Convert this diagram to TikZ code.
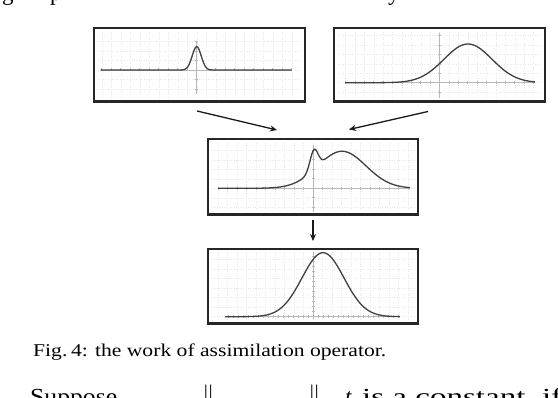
\documentclass[tikz,border=0pt]{standalone}
\usepackage{graphicx}
\usepackage{fontspec}
\setmainfont{Liberation Serif}
\usetikzlibrary{arrows.meta}
\begin{document}
\begin{tikzpicture}[x=1pt,y=-1pt,
  declare function={g(\t)=exp(-min(\t*\t/2,9));},
  frame/.style={draw=black!85, line width=1.6pt, inner sep=0pt, minimum width=210pt},
  curve/.style={draw=black!75, line width=1.3pt, line join=round},
  axisl/.style={draw=black!28, line width=0.7pt},
  gridl/.style={draw=black!9, line width=0.4pt, dotted},
  conn/.style={draw=black!90, line width=1.3pt, -{Stealth[length=7pt,width=6pt]}},
  txt/.style={inner sep=0pt, anchor=base west, font=\fontsize{23}{26}\selectfont}
]
\clip (0,0) rectangle (558,398);
\fill[white] (0,0) rectangle (558,398);

% fragments of the line above (cut off at the top edge, as in the reference)
\node[txt] (f1) at (2,1) {g};
\node[txt] (f2) at (50,1) {p};
\node[txt] (f3) at (388,1) {y};

% boxes
\node[frame, minimum width=211pt, minimum height=73pt] (b1) at (199.5,64.5) {};
\node[frame, minimum width=211pt, minimum height=73pt] (b2) at (439.5,64.7) {};
\node[frame, minimum width=210pt, minimum height=75pt] (b3) at (313,176.5) {};
\node[frame, minimum width=210pt, minimum height=74pt] (b4) at (313,286) {};
\foreach \b in {b1,b2,b3,b4}
  \draw[black!85, line width=2.8pt] (\b.south west) -- (\b.south east);

% ---- plot 1
\foreach \i in {-10,...,10} \draw[gridl] ({196.7+9.5*\i},32) -- ({196.7+9.5*\i},97);
\foreach \j in {-3,...,2} \draw[gridl] (98,{70+9.5*\j}) -- (300,{70+9.5*\j});
\draw[axisl] (100.7,70) -- (291.7,70);
\draw[axisl] (196.7,41) -- (196.7,94);
\foreach \i in {-10,...,10} \draw[axisl] ({196.7+9.5*\i},68.5) -- ++(0,3);
\foreach \j in {-3,...,2} \draw[axisl] (195.2,{70+9.5*\j}) -- ++(3,0);
\draw[curve] plot[domain=100.7:291.7, samples=240] (\x,{70-23.3*g((\x-196.7)/4.5)});

% ---- plot 2
\foreach \i in {-10,...,10} \draw[gridl] ({439.5+9.4*\i},32) -- ({439.5+9.4*\i},97);
\foreach \j in {-5,...,1} \draw[gridl] (338,{82.7+9.4*\j}) -- (540,{82.7+9.4*\j});
\draw[axisl] (345,82.7) -- (535,82.7);
\draw[axisl] (439.5,33) -- (439.5,98);
\foreach \i in {-10,...,10} \draw[axisl] ({439.5+9.4*\i},81.2) -- ++(0,3);
\foreach \j in {-5,...,1} \draw[axisl] (438,{82.7+9.4*\j}) -- ++(3,0);
\draw[curve] plot[domain=345:535, samples=160] (\x,{82.7-38.7*g((\x-468)/24)});

% ---- plot 3
\foreach \i in {-10,...,10} \draw[gridl] ({313+9.5*\i},143) -- ({313+9.5*\i},210);
\foreach \j in {-4,...,2} \draw[gridl] (212,{188.3+9.5*\j}) -- (414,{188.3+9.5*\j});
\draw[axisl] (218,188.3) -- (410,188.3);
\draw[axisl] (313,145) -- (313,212);
\foreach \i in {-10,...,10} \draw[axisl] ({313+9.5*\i},186.8) -- ++(0,3);
\foreach \j in {-4,...,2} \draw[axisl] (311.5,{188.3+9.5*\j}) -- ++(3,0);
\draw[curve] plot[domain=218:410, samples=240] (\x,{188.3-20*g((\x-314)/4)-37*g((\x-342)/24)});

% ---- plot 4
\foreach \i in {-10,...,10} \draw[gridl] ({313+9.5*\i},252) -- ({313+9.5*\i},320);
\foreach \j in {-6,...,0} \draw[gridl] (212,{316.7+9.5*\j}) -- (414,{316.7+9.5*\j});
\draw[axisl] (225,316.7) -- (400,316.7);
\draw[axisl] (313,252) -- (313,319);
\foreach \i in {-17,...,17} \draw[axisl] ({313+5*\i},315.2) -- ++(0,3);
\foreach \j in {-12,...,0} \draw[axisl] (311.5,{316.7+5*\j}) -- ++(3,0);
\draw[curve] plot[domain=225:400, samples=160] (\x,{316.7-64*g((\x-323)/21)});

% connectors
\coordinate (a1s) at (197,111);
\coordinate (a1e) at (277,130);
\coordinate (a2s) at (428,111.5);
\coordinate (a2e) at (349,129.5);
\coordinate (a3s) at (313,220);
\coordinate (a3e) at (313,241);
\draw[conn] (a1s) -- (a1e);
\draw[conn] (a2s) -- (a2e);
\draw[conn] (a3s) -- (a3e);

% caption
\node[inner sep=0pt, anchor=base west] (capt) at (33,356.7)
  {\fontsize{18}{20}\selectfont\resizebox{353pt}{\height}{Fig.\,4: the work of assimilation operator.}};

% fragments of the line below (cut off at the bottom edge, as in the reference)
\node[txt] (s1) at (30,405) {\resizebox{87pt}{\height}{Suppose}};
\node[txt] (s2) at (202,404) {$\|$};
\node[txt] (s3) at (308,404) {$\|$};
\node[txt] (s4) at (345,405) {\textit{t}};
\node[txt] (s5) at (362,405) {\resizebox{200pt}{\height}{is a constant, if}};
\end{tikzpicture}
\end{document}
